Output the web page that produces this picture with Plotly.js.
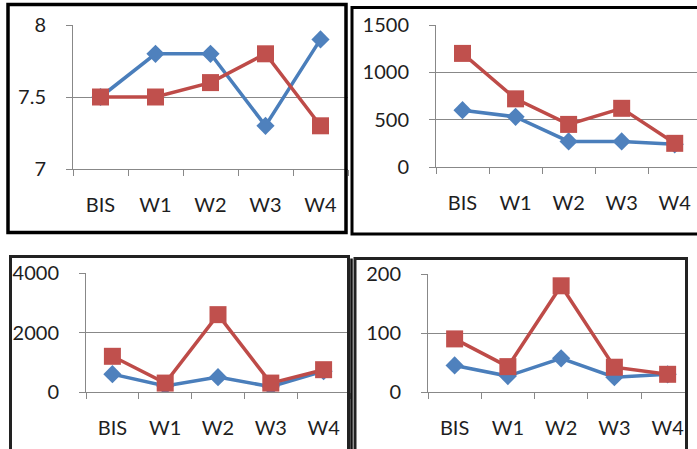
<!DOCTYPE html>
<html>
<head>
<meta charset="utf-8">
<script src="https://cdn.plot.ly/plotly-3.0.1.min.js"></script>
<style>html,body{margin:0;padding:0;background:#fff;}#chart{width:697px;height:449px;}</style>
</head>
<body>
<div id="chart"></div>
<script>
// ---- data ----
var categories = ['BIS', 'W1', 'W2', 'W3', 'W4'];
var p1Blue = [7.5, 7.8, 7.8, 7.3, 7.9];
var p1Red  = [7.5, 7.5, 7.6, 7.8, 7.3];
var p2Blue = [600, 530, 270, 270, 240];
var p2Red  = [1200, 720, 450, 620, 250];
var p3Blue = [600, 200, 500, 180, 700];
var p3Red  = [1200, 300, 2600, 300, 750];
var p4Blue = [45, 27, 57, 25, 30];
var p4Red  = [90, 43, 180, 42, 30];

var W = 697, H = 449;
function fx(px) { return px / W; }
function fy(py) { return 1 - py / H; }

var BLUE_LINE = '#4A7EBB', BLUE_MK = '#4F81BD';
var RED_LINE = '#BE4B48', RED_MK = '#C0504D';
var GRID = '#888888';
var FONT = {family: 'Lato, "Open Sans", sans-serif', size: 20, color: '#1e1e1e'};

function pair(blue, red, n) {
  var xa = n === 1 ? 'x' : 'x' + n, ya = n === 1 ? 'y' : 'y' + n;
  return [
    {x: categories, y: blue, xaxis: xa, yaxis: ya, type: 'scatter', mode: 'lines+markers',
     line: {color: BLUE_LINE, width: 3.5},
     marker: {symbol: 'diamond', size: 14, color: BLUE_MK, line: {width: 0}}},
    {x: categories, y: red, xaxis: xa, yaxis: ya, type: 'scatter', mode: 'lines+markers',
     line: {color: RED_LINE, width: 3.5},
     marker: {symbol: 'square', size: 17, color: RED_MK, line: {width: 0}}}
  ];
}

var data = [].concat(pair(p1Blue, p1Red, 1), pair(p2Blue, p2Red, 2),
                     pair(p3Blue, p3Red, 3), pair(p4Blue, p4Red, 4));

function xax(dom, r, anchor) {
  return {domain: dom, range: r, type: 'category', anchor: anchor,
    showline: true, linecolor: GRID, linewidth: 1, showgrid: false, zeroline: false,
    ticks: 'outside', tickson: 'boundaries', ticklen: 6, tickcolor: GRID, tickwidth: 1,
    ticklabelstandoff: 18, tickfont: FONT, fixedrange: true};
}
function yax(dom, r, dt, anchor) {
  return {domain: dom, range: r, dtick: dt, anchor: anchor,
    showline: true, linecolor: GRID, linewidth: 1, showgrid: true, gridcolor: GRID, gridwidth: 1,
    zeroline: false, ticks: 'outside', ticklen: 6, tickcolor: GRID, tickwidth: 1,
    ticklabelstandoff: 16, tickfont: FONT, fixedrange: true};
}

function border(x0, y0, x1, y1, w, c) {
  return {type: 'rect', xref: 'paper', yref: 'paper', x0: fx(x0), x1: fx(x1), y0: fy(y0), y1: fy(y1),
          line: {color: c || '#000', width: w}, fillcolor: 'rgba(0,0,0,0)', layer: 'above'};
}
function vline(x, y0, y1, w, c) {
  return {type: 'line', xref: 'paper', yref: 'paper', x0: fx(x), x1: fx(x), y0: fy(y0), y1: fy(y1),
          line: {color: c || '#000', width: w}, layer: 'above'};
}

var layout = {
  width: W, height: H, margin: {l: 0, r: 0, t: 0, b: 0},
  paper_bgcolor: '#fff', plot_bgcolor: 'rgba(0,0,0,0)', showlegend: false,
  font: FONT,
  xaxis:  xax([fx(73), fx(348)], [-0.5, 4.5], 'y'),
  yaxis:  yax([fy(169), fy(25)], [7, 8], 0.5, 'x'),
  xaxis2: xax([fx(436), 1], [-0.5, 4.42], 'y2'),
  yaxis2: yax([fy(167), fy(25)], [0, 1500], 500, 'x2'),
  xaxis3: xax([fx(86), fx(350)], [-0.5, 4.5], 'y3'),
  yaxis3: yax([fy(392), fy(273)], [0, 4000], 2000, 'x3'),
  xaxis4: xax([fx(428), fx(686)], [-0.5, 4.345], 'y4'),
  yaxis4: yax([fy(392), fy(274)], [0, 200], 100, 'x4'),
  shapes: [
    border(8, 4.5, 346, 232.5, 3.5),
    border(352, 7.5, 705, 234, 3),
    border(10.5, 256.5, 348.5, 470, 3, '#222'),
    border(355, 258.5, 686.5, 470, 3, '#222'),
    vline(351.5, 258.5, 470, 2.5, '#111')
  ]
};

Plotly.newPlot('chart', data, layout, {staticPlot: true, displayModeBar: false});
</script>
</body>
</html>
